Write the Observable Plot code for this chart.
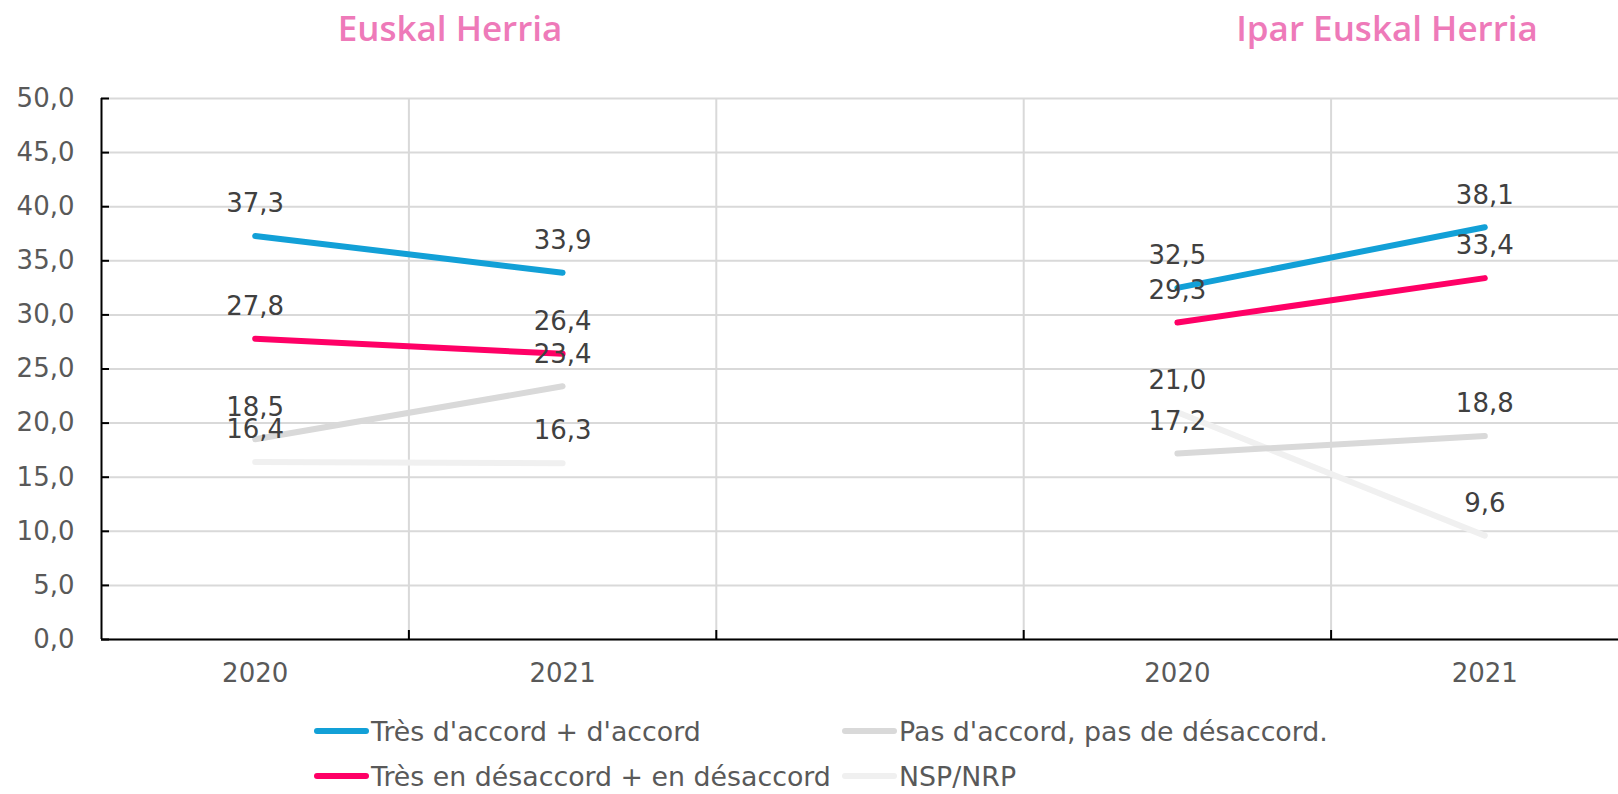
<!DOCTYPE html>
<html><head><meta charset="utf-8">
<script src="https://cdn.jsdelivr.net/npm/d3@7"></script>
<script src="https://cdn.jsdelivr.net/npm/@observablehq/plot@0.6"></script>
<style>
html,body{margin:0;padding:0;background:#fff;overflow:hidden;width:1618px;height:794px;}
#wrap{position:relative;width:1618px;height:794px;overflow:hidden;font-family:"DejaVu Sans",Verdana,sans-serif;}
.title{position:absolute;top:6px;font-family:"Open Sans",sans-serif;font-weight:600;font-size:35px;color:#ee7ab9;transform:translateX(-50%);white-space:nowrap;line-height:44px;}
#chart{position:absolute;left:0;top:60px;max-width:none !important;}
.leg{position:absolute;display:flex;align-items:center;font-size:26.8px;color:#595959;white-space:nowrap;height:34px;}
.sw{width:55px;height:6px;border-radius:3px;margin-right:2px;}
</style></head>
<body><div id="wrap"></div>
<script>
// ---- data ----
const slots = ["2020", "2021", "", "2020", "2021"];
const regionTitles = ["Euskal Herria", "Ipar Euskal Herria"];
const seriesNames = ["Très d'accord + d'accord", "Très en désaccord + en désaccord", "Pas d'accord, pas de désaccord.", "NSP/NRP"];
const seriesColors = ["#12a0d7", "#ff0066", "#d9d9d9", "#f0f0f0"];
const accord = [37.3, 33.9, null, 32.5, 38.1];
const desaccord = [27.8, 26.4, null, 29.3, 33.4];
const neutre = [18.5, 23.4, null, 17.2, 18.8];
const nsp = [16.4, 16.3, null, 21.0, 9.6];
const yTicks = [0, 5, 10, 15, 20, 25, 30, 35, 40, 45, 50];

const seriesValues = [accord, desaccord, neutre, nsp];
const fmt = v => v.toFixed(1).replace(".", ",");

const rows = [];
seriesValues.forEach((vals, s) => {
  vals.forEach((v, i) => {
    if (v == null) return;
    rows.push({series: seriesNames[s], seg: seriesNames[s] + (i < 2 ? "-a" : "-b"), slot: i + 0.5, value: v});
  });
});
const drawOrder = [3, 2, 1, 0].map(i => seriesNames[i]);
const ordered = drawOrder.flatMap(n => rows.filter(r => r.series === n));

const wrap = document.getElementById("wrap");
const boundaries = d3.range(1, slots.length + 1);
const labelPos = slots.map((s, i) => i + 0.5).filter((_, i) => slots[i] !== "");

const chart = Plot.plot({
  width: 1640,
  height: 639,
  marginLeft: 101,
  marginRight: 2,
  marginTop: 38,
  marginBottom: 60,
  style: {fontFamily: "DejaVu Sans, Verdana, sans-serif", fontSize: "26px", color: "#595959", background: "white", overflow: "visible", maxWidth: "none"},
  x: {type: "linear", domain: [0, slots.length], axis: null, label: null},
  y: {domain: [0, 50], axis: null, label: null},
  color: {domain: seriesNames, range: seriesColors},
  marks: [
    Plot.gridY(yTicks, {stroke: "#d9d9d9", strokeOpacity: 1, strokeWidth: 2}),
    Plot.gridX(boundaries, {stroke: "#d9d9d9", strokeOpacity: 1, strokeWidth: 2}),
    Plot.axisY(yTicks, {tickSize: 0, tickPadding: 27, tickFormat: fmt, fill: "#595959", fontSize: 26, label: null}),
    Plot.axisY(yTicks, {tickSize: -8, text: null, stroke: "#000", strokeWidth: 2, label: null}),
    Plot.axisX(labelPos, {tickSize: 0, tickPadding: 24, tickFormat: d => slots[Math.floor(d)], fill: "#595959", fontSize: 26, label: null}),
    Plot.axisX(boundaries, {tickSize: -9, text: null, stroke: "#000", strokeWidth: 2, label: null}),
    Plot.ruleX([0], {stroke: "#000", strokeWidth: 2}),
    Plot.ruleY([0], {stroke: "#000", strokeWidth: 2}),
    Plot.line(ordered, {x: "slot", y: "value", z: "seg", stroke: "series", strokeWidth: 6, strokeLinecap: "round"}),
    Plot.text(ordered, {x: "slot", y: "value", text: d => fmt(d.value), dy: -32, fill: "#404040", fontSize: 26})
  ]
});
chart.id = "chart";
chart.style.maxWidth = "none";
wrap.appendChild(chart);

const titleX = [450, 1387];
regionTitles.forEach((t, i) => {
  const d = document.createElement("div");
  d.className = "title";
  d.style.left = titleX[i] + "px";
  d.textContent = t;
  wrap.appendChild(d);
});

const legPos = [[314, 714], [314, 759], [842, 714], [842, 759]];
seriesNames.forEach((n, i) => {
  const d = document.createElement("div");
  d.className = "leg";
  d.style.left = legPos[i][0] + "px";
  d.style.top = legPos[i][1] + "px";
  const sw = document.createElement("div");
  sw.className = "sw";
  sw.style.background = seriesColors[i];
  const tx = document.createElement("span");
  tx.textContent = n;
  d.appendChild(sw); d.appendChild(tx);
  wrap.appendChild(d);
});
</script></body></html>
